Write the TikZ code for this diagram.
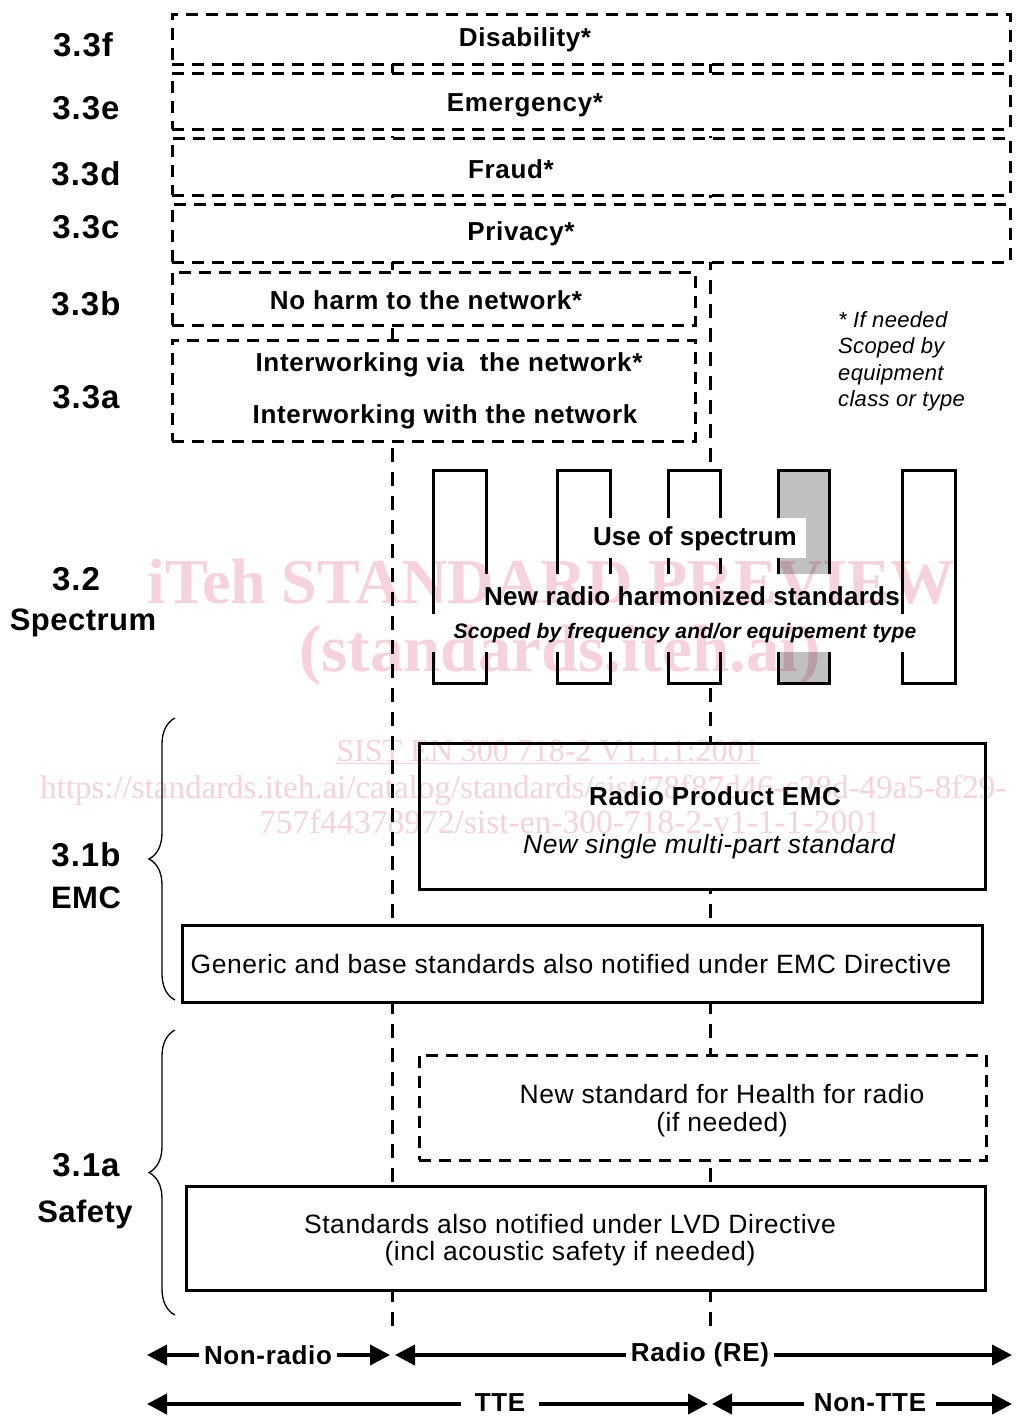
\documentclass[tikz,border=0pt]{standalone}
\usepackage{fontspec}
\setmainfont{Liberation Sans}
\newfontfamily\wmfont{Liberation Serif}
\newfontfamily\lsA[LetterSpace=3]{Liberation Sans}
\newfontfamily\lsB[LetterSpace=2.5]{Liberation Sans}
\newfontfamily\lsC[LetterSpace=2]{Liberation Sans}
\newfontfamily\lsD[LetterSpace=1.5]{Liberation Sans}
\newfontfamily\lsH[LetterSpace=1]{Liberation Sans}
\usetikzlibrary{arrows.meta,decorations.pathreplacing,fit}
\definecolor{wm}{RGB}{246,210,220}
\definecolor{colgray}{RGB}{192,192,192}
\tikzset{
 dbox/.style={draw, line width=3pt, dash pattern=on 12pt off 8pt, fill=white, inner sep=0pt},
 sbox/.style={draw, line width=3pt, fill=white, inner sep=0pt},
 colbox/.style={draw, line width=3pt, fill=white, inner sep=0pt},
 vline/.style={line width=3pt, dash pattern=on 14pt off 10pt},
 lbl/.style={font=\lsA\bfseries\fontsize{33}{39}\selectfont, inner sep=0pt},
 lblw/.style={font=\lsD\bfseries\fontsize{31}{37}\selectfont, inner sep=0pt},
 bt/.style={font=\lsB\bfseries\fontsize{26}{31}\selectfont, inner sep=0pt},
 rt/.style={font=\lsC\fontsize{26.5}{32}\selectfont, inner sep=0pt},
 itx/.style={font=\lsC\itshape\fontsize{26.5}{32}\selectfont, inner sep=0pt},
 notetxt/.style={font=\lsD\itshape\fontsize{22}{26.5}\selectfont, align=left, inner sep=0pt},
 wbg/.style={fill=white, draw=none, inner sep=0pt},
 arr/.style={line width=4pt, {Triangle[length=20pt,width=20pt]}-{Triangle[length=20pt,width=20pt]}},
 albl/.style={font=\lsB\bfseries\fontsize{26}{31}\selectfont, fill=white, inner xsep=5pt, inner ysep=1pt},
 brc/.style={line width=1.3pt, decorate, decoration={brace, amplitude=26pt}},
 wmb/.style={font=\wmfont\bfseries\fontsize{64}{70}\selectfont, text=wm, inner sep=0pt},
 wmr/.style={font=\wmfont\fontsize{32}{36}\selectfont, text=wm, inner sep=0pt},
}
\begin{document}
\begin{tikzpicture}[x=1pt,y=-1pt]
\useasboundingbox (0,0) rectangle (1015,1416);
\fill[white] (0,0) rectangle (1015,1416);

% vertical dashed boundaries
\coordinate (v1t) at (392,64);
\coordinate (v1b) at (392,1332);
\coordinate (v2t) at (710,64);
\coordinate (v2b) at (710,1332);
\draw[vline] (v1t) -- (v1b);
\draw[vline] (v2t) -- (v2b);

% 3.3 boxes
\node[dbox, fit={(172,14)(1010,64)}] (dis) {};
\node[dbox, fit={(172,73)(1010,129)}] (emg) {};
\node[dbox, fit={(172,138)(1010,195)}] (fra) {};
\node[dbox, fit={(172,204)(1010,262)}] (pri) {};
\node[dbox, fit={(172,272)(695,325)}] (nh) {};
\node[dbox, fit={(172,340)(695,441)}] (iw) {};

\node[bt] (disT) at (525,40) {Disability*};
\node[bt] (emgT) at (525,105) {Emergency*};
\node[bt] (fraT) at (511,169) {Fraud*};
\node[bt] (priT) at (521,234) {Privacy*};
\node[bt] (nhT) at (426,300) {No harm to the network*};
\node[bt] (iw1) at (449,365) {Interworking via\ \ the network*};
\node[bt] (iw2) at (445,417) {Interworking with the network};

\node[notetxt, anchor=north west] (note) at (838,311) {* If needed\\Scoped by\\equipment\\class or type};

% spectrum columns
\node[colbox, fit={(433,470)(486,683)}] (c1) {};
\node[colbox, fit={(557,470)(610,683)}] (c2) {};
\node[colbox, fit={(668,470)(720,683)}] (c3) {};
\node[colbox, fill=colgray, fit={(778,470)(829,683)}] (c4) {};
\node[colbox, fit={(902,470)(955,683)}] (c5) {};

\node[wbg, fit={(586,518)(806,558)}] (usebg) {};
\node[wbg, fit={(478,574)(898,614)}] (newbg) {};
\node[wbg, fit={(430,614)(918,652)}] (scbg) {};
\node[font=\bfseries\fontsize{26}{31}\selectfont, inner sep=0pt] (use) at (695,539) {Use of spectrum};
\node[font=\lsH\bfseries\fontsize{26}{31}\selectfont, inner sep=0pt] (newr) at (692,596) {New radio harmonized standards};
\node[font=\lsH\bfseries\itshape\fontsize{21}{25}\selectfont, inner sep=0pt] (scp) at (685,633) {Scoped by frequency and/or equipement type};

% EMC
\node[sbox, fit={(419,743)(985,889)}] (rpe) {};
\node[bt] (rpeT) at (715,796) {Radio Product EMC};
\node[itx] (rpeS) at (709,847) {New single multi-part standard};
\node[sbox, fit={(182,925)(982,1002)}] (gen) {};
\node[rt] (genT) at (571,964) {Generic and base standards also notified under EMC Directive};

% Safety
\node[dbox, fit={(419,1055)(986,1160)}] (hl) {};
\node[rt] (hl1) at (722,1094) {New standard for Health for radio};
\node[rt] (hl2) at (722,1125) {(if needed)};
\node[sbox, fit={(186,1186)(985,1290)}] (lvd) {};
\node[rt] (lvd1) at (570,1224) {Standards also notified under LVD Directive};
\node[rt] (lvd2) at (570,1254) {(incl acoustic safety if needed)};

% braces
\coordinate (b1t) at (175,718);
\coordinate (b1b) at (175,1000);
\coordinate (b2t) at (175,1030);
\coordinate (b2b) at (175,1315);
\draw[brc] (b1b) -- (b1t);
\draw[brc] (b2b) -- (b2t);

% left labels
\node[lbl] (l3f) at (83,45) {3.3f};
\node[lbl] (l3e) at (86,108) {3.3e};
\node[lbl] (l3d) at (86,174) {3.3d};
\node[lbl] (l3c) at (86,227) {3.3c};
\node[lbl] (l3b) at (86,304) {3.3b};
\node[lbl] (l3a) at (86,397) {3.3a};
\node[lbl] (l32) at (76,579) {3.2};
\node[lblw] (lsp) at (83,623) {Spectrum};
\node[lbl] (l31b) at (86,855) {3.1b};
\node[lblw] (lemc) at (86,898) {EMC};
\node[lbl] (l31a) at (86,1165) {3.1a};
\node[lblw] (lsaf) at (85,1214) {Safety};

% bottom arrows
\coordinate (a1) at (147,1355);
\coordinate (a2) at (390,1355);
\coordinate (a3) at (395,1355);
\coordinate (a4) at (1012,1355);
\coordinate (b1) at (147,1404);
\coordinate (b2) at (708,1404);
\coordinate (b3) at (712,1404);
\coordinate (b4) at (1012,1404);
\draw[arr] (a1) -- (a2);
\draw[arr] (a3) -- (a4);
\draw[arr] (b1) -- (b2);
\draw[arr] (b3) -- (b4);
\node[albl] (nr) at (268,1355) {Non-radio};
\node[albl] (rre) at (700,1355) {Radio (RE)};
\node[albl, inner xsep=14pt] (tte) at (500,1403) {TTE};
\node[albl, inner xsep=10pt] (ntte) at (870,1403) {Non-TTE};

% watermark
\begin{scope}[blend mode=multiply]
\clip (0,0) rectangle (1015,1416);
\node[wmb] (wm1) at (551,582) {iTeh STANDARD PREVIEW};
\node[wmb, font=\wmfont\bfseries\fontsize{67}{72}\selectfont] (wm2) at (560,655) {(standards.iteh.ai)};
\node[wmr] (wm3) at (548,752) {\underline{SIST EN 300 718-2 V1.1.1:2001}};
\node[wmr, font=\wmfont\fontsize{33}{38}\selectfont, anchor=west] (wm4) at (40,790) {https://standards.iteh.ai/catalog/standards/sist/78f87d46-c28d-49a5-8f29-};
\node[wmr, font=\wmfont\fontsize{33.5}{38}\selectfont] (wm5) at (570,822) {757f44378972/sist-en-300-718-2-v1-1-1-2001};
\end{scope}
\end{tikzpicture}
\end{document}
